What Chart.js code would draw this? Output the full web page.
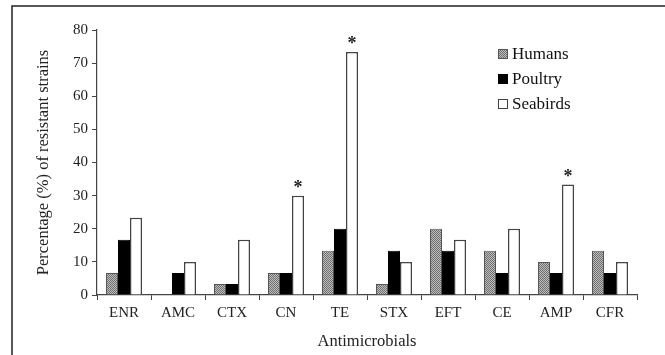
<!DOCTYPE html>
<html>
<head>
<meta charset="utf-8">
<script src="https://cdn.jsdelivr.net/npm/chart.js@4/dist/chart.umd.min.js"></script>
<style>
  html, body { margin: 0; padding: 0; background: #fff; }
  #wrap { width: 665px; height: 355px; position: relative; }
</style>
</head>
<body>
<div id="wrap"><canvas id="c" width="665" height="355"></canvas></div>
<script>
const categories = ['ENR', 'AMC', 'CTX', 'CN', 'TE', 'STX', 'EFT', 'CE', 'AMP', 'CFR'];
const humans   = [6.67, 0, 3.33, 6.67, 13.33, 3.33, 20, 13.33, 10, 13.33];
const poultry  = [16.67, 6.67, 3.33, 6.67, 20, 13.33, 13.33, 6.67, 6.67, 6.67];
const seabirds = [23.33, 10, 16.67, 30, 73.33, 10, 16.67, 20, 33.33, 10];
const significance = ['', '', '', '*', '*', '', '', '', '*', ''];
const yTicks = [0, 10, 20, 30, 40, 50, 60, 70, 80];

const FONT = '"Liberation Serif", "Times New Roman", serif';

function makePattern() {
  const p = document.createElement('canvas');
  p.width = 2; p.height = 2;
  const g = p.getContext('2d');
  g.fillStyle = '#bdbdbd'; g.fillRect(0, 0, 2, 2);
  g.fillStyle = '#6f6f6f'; g.fillRect(0, 0, 1, 1); g.fillRect(1, 1, 1, 1);
  return g.createPattern(p, 'repeat');
}
const hatch = makePattern();

const framePlugin = {
  id: 'frame',
  beforeDraw(chart) {
    const ctx = chart.ctx;
    ctx.save();
    ctx.strokeStyle = '#222';
    ctx.lineWidth = 1.5;
    ctx.strokeRect(12, 6, 800, 500);
    ctx.restore();
  }
};

const starPlugin = {
  id: 'stars',
  afterDatasetsDraw(chart) {
    const ctx = chart.ctx;
    const meta = chart.getDatasetMeta(2);
    ctx.save();
    ctx.fillStyle = '#222';
    ctx.font = 'bold 18px ' + FONT;
    ctx.textAlign = 'center';
    ctx.textBaseline = 'alphabetic';
    significance.forEach((s, i) => {
      if (!s) return;
      const bar = meta.data[i];
      ctx.fillText(s, bar.x, bar.y - 3);
    });
    ctx.restore();
  }
};

const legendPlugin = {
  id: 'customLegend',
  afterDraw(chart) {
    const ctx = chart.ctx;
    ctx.save();
    ctx.font = '17px ' + FONT;
    ctx.textBaseline = 'middle';
    ctx.textAlign = 'left';
    const x0 = 498, ys = [54, 79, 104];
    chart.data.datasets.forEach((ds, i) => {
      const y = ys[i];
      ctx.fillStyle = ds.backgroundColor;
      ctx.fillRect(x0, y - 5, 10, 10);
      ctx.strokeStyle = ds.borderColor;
      ctx.lineWidth = 1;
      ctx.strokeRect(x0 + 0.5, y - 4.5, 9, 9);
      ctx.fillStyle = '#111';
      ctx.fillText(ds.label, x0 + 14, y + 1);
    });
    ctx.restore();
  }
};

new Chart(document.getElementById('c'), {
  type: 'bar',
  data: {
    labels: categories,
    datasets: [
      { label: 'Humans', data: humans, backgroundColor: hatch, borderColor: '#555', borderWidth: 1 },
      { label: 'Poultry', data: poultry, backgroundColor: '#000', borderColor: '#000', borderWidth: 1 },
      { label: 'Seabirds', data: seabirds, backgroundColor: '#fff', borderColor: '#444', borderWidth: 1.5 }
    ]
  },
  options: {
    responsive: false,
    animation: false,
    devicePixelRatio: 1,
    layout: { padding: { left: 34, right: 28, top: 30, bottom: 3 } },
    datasets: { bar: { categoryPercentage: 0.667, barPercentage: 1.0 } },
    plugins: { legend: { display: false }, tooltip: { enabled: false } },
    scales: {
      x: {
        grid: { drawOnChartArea: false, drawTicks: true, tickLength: 5, color: '#444', offset: true },
        border: { color: '#444', width: 1.2 },
        ticks: { color: '#222', font: { family: FONT, size: 15 }, padding: 4 },
        title: { display: true, text: 'Antimicrobials', color: '#222', font: { family: FONT, size: 16.5 }, padding: 0 },
        afterFit(s) { s.height = 57; }
      },
      y: {
        min: 0, max: 80,
        afterBuildTicks(s) { s.ticks = yTicks.map(v => ({ value: v })); },
        grid: { drawOnChartArea: false, drawTicks: true, tickLength: 5, color: '#444' },
        border: { color: '#444', width: 1.2 },
        ticks: { color: '#222', font: { family: FONT, size: 15 }, padding: 4 },
        title: { display: true, text: 'Percentage (%) of resistant strains', color: '#222', font: { family: FONT, size: 16.5 }, padding: 0 },
        afterFit(s) { s.width = 63; }
      }
    }
  },
  plugins: [framePlugin, starPlugin, legendPlugin]
});
</script>
</body>
</html>
